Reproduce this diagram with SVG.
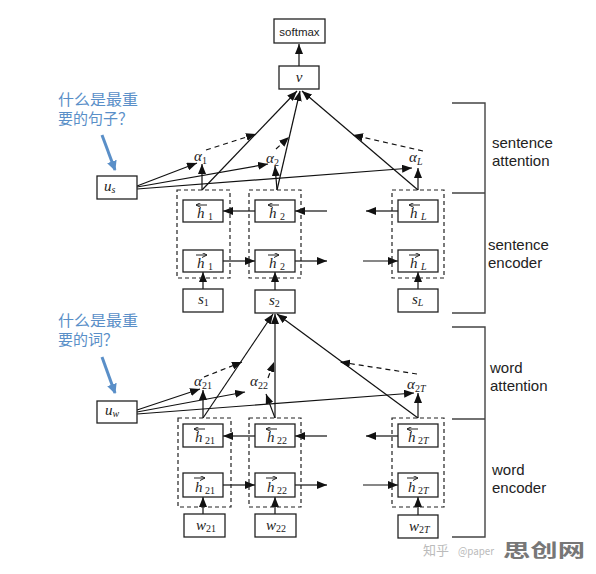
<svg xmlns="http://www.w3.org/2000/svg" width="596" height="574" viewBox="0 0 596 574">
<defs>
<marker id="ah" viewBox="0 0 10 8" refX="10" refY="4" markerWidth="10" markerHeight="8" orient="auto" markerUnits="userSpaceOnUse"><path d="M0,0 L10,4 L0,8 z" fill="#111"/></marker>
<marker id="sm" viewBox="0 0 6 6" refX="6" refY="3" markerWidth="5" markerHeight="5" orient="auto" markerUnits="userSpaceOnUse"><path d="M0,0 L6,3 L0,6" fill="none" stroke="#222" stroke-width="1.2"/></marker>
<marker id="bh" viewBox="0 0 10 10" refX="9" refY="5" markerWidth="10" markerHeight="10" orient="auto" markerUnits="userSpaceOnUse"><path d="M0,0 L10,5 L0,10 z" fill="#5a8fc8"/></marker>
<style>
.box{fill:#fff;stroke:#222;stroke-width:1.3}
.dbox{fill:none;stroke:#222;stroke-width:1.2;stroke-dasharray:4,3}
.ar{fill:none;stroke:#111;stroke-width:1.2;marker-end:url(#ah)}
.da{fill:none;stroke:#111;stroke-width:1.2;stroke-dasharray:5,4;marker-end:url(#ah)}
.ov{fill:none;stroke:#222;stroke-width:1;marker-end:url(#sm)}
.mi{font-family:"Liberation Serif","DejaVu Serif",serif;font-style:italic;font-size:15px;fill:#222}
.sub{font-family:"Liberation Serif","DejaVu Serif",serif;font-style:normal;font-size:10px;fill:#222}
.subi{font-family:"Liberation Serif","DejaVu Serif",serif;font-style:italic;font-size:10px;fill:#222}
.lbl{font-family:"Liberation Sans",Arial,sans-serif;font-size:15px;fill:#222}
.cn{font-family:"Noto Sans CJK SC","Noto Sans",sans-serif;font-size:15px;fill:#5a8fc8}
.bl{fill:none;stroke:#5a8fc8;stroke-width:3;marker-end:url(#bh)}
.br{fill:none;stroke:#444;stroke-width:1.4}
</style>
</defs>

<!-- connectors -->
<g id="connectors">
  <!-- sentence level -->
  <line class="ar" x1="299" y1="66" x2="299" y2="44"/>
  <line class="ar" x1="202" y1="190" x2="297" y2="91"/>
  <line class="ar" x1="277" y1="190" x2="300" y2="91"/>
  <line class="ar" x1="418" y1="190" x2="302" y2="91"/>
  <line class="ar" x1="202" y1="190" x2="202" y2="164"/>
  <line class="ar" x1="277" y1="190" x2="275" y2="166"/>
  <line class="ar" x1="418" y1="190" x2="418" y2="168"/>
  <line class="ar" x1="137" y1="186" x2="197" y2="163"/>
  <line class="ar" x1="137" y1="187" x2="268" y2="164"/>
  <line class="ar" x1="137" y1="189" x2="412" y2="168"/>
  <line class="da" x1="206" y1="150" x2="256" y2="134"/>
  <line class="da" x1="276" y1="149" x2="289" y2="137"/>
  <line class="da" x1="423" y1="151" x2="353" y2="135"/>
  <!-- sentence rnn -->
  <line class="ar" x1="255" y1="211" x2="223" y2="211"/>
  <line class="ar" x1="327" y1="211" x2="295" y2="211"/>
  <line class="ar" x1="398" y1="211" x2="366" y2="211"/>
  <line class="ar" x1="223" y1="261" x2="255" y2="261"/>
  <line class="ar" x1="295" y1="261" x2="327" y2="261"/>
  <line class="ar" x1="363" y1="261" x2="398" y2="261"/>
  <line class="ar" x1="203" y1="289" x2="203" y2="272"/>
  <line class="ar" x1="275" y1="290" x2="275" y2="272"/>
  <line class="ar" x1="418" y1="289" x2="418" y2="272"/>
  <!-- word level -->
  <line class="ar" x1="203" y1="418" x2="273" y2="314"/>
  <line class="ar" x1="275" y1="418" x2="275" y2="314"/>
  <line class="ar" x1="418" y1="418" x2="277" y2="314"/>
  <line class="ar" x1="203" y1="418" x2="203" y2="390"/>
  <line class="ar" x1="275" y1="418" x2="266" y2="394"/>
  <line class="ar" x1="418" y1="418" x2="418" y2="393"/>
  <line class="ar" x1="137" y1="410" x2="200" y2="389"/>
  <line class="ar" x1="137" y1="412" x2="245" y2="392"/>
  <line class="ar" x1="137" y1="414" x2="414" y2="393"/>
  <line class="da" x1="204" y1="377" x2="242" y2="362"/>
  <line class="da" x1="268" y1="378" x2="274" y2="362"/>
  <line class="da" x1="417" y1="374" x2="340" y2="362"/>
  <!-- word rnn -->
  <line class="ar" x1="255" y1="436" x2="223" y2="436"/>
  <line class="ar" x1="327" y1="436" x2="295" y2="436"/>
  <line class="ar" x1="398" y1="436" x2="366" y2="436"/>
  <line class="ar" x1="223" y1="485" x2="255" y2="485"/>
  <line class="ar" x1="295" y1="485" x2="327" y2="485"/>
  <line class="ar" x1="363" y1="485" x2="398" y2="485"/>
  <line class="ar" x1="203" y1="514" x2="203" y2="497"/>
  <line class="ar" x1="275" y1="514" x2="275" y2="497"/>
  <line class="ar" x1="418" y1="515" x2="418" y2="497"/>
  <!-- blue hint arrows -->
  <line class="bl" x1="102" y1="135" x2="115" y2="170"/>
  <line class="bl" x1="102" y1="357" x2="115" y2="393"/>
</g>

<!-- alpha labels -->
<g id="alphas">
  <text class="mi" x="194" y="161">α<tspan class="sub" dy="3">1</tspan></text>
  <text class="mi" x="266" y="163">α<tspan class="sub" dy="3">2</tspan></text>
  <text class="mi" x="409" y="162">α<tspan class="subi" dy="3">L</tspan></text>
  <text class="mi" x="194" y="386">α<tspan class="sub" dy="3">21</tspan></text>
  <text class="mi" x="250" y="386">α<tspan class="sub" dy="3">22</tspan></text>
  <text class="mi" x="407" y="389">α<tspan class="sub" dy="3">2</tspan><tspan class="subi">T</tspan></text>
</g>

<!-- top nodes -->
<g id="softmax">
  <rect class="box" x="274" y="19" width="51" height="24"/>
  <text x="299.5" y="35.5" text-anchor="middle" font-family="Liberation Sans, Arial, sans-serif" font-size="11.5" fill="#222">softmax</text>
</g>
<g id="v">
  <rect class="box" x="279" y="66" width="40" height="23"/>
  <text class="mi" x="299" y="82" text-anchor="middle" font-size="13">v</text>
</g>
<g id="us">
  <rect class="box" x="97" y="176" width="40" height="23"/>
  <text class="mi" x="104" y="191" font-size="13">u<tspan class="subi" dy="2">s</tspan></text>
</g>
<g id="uw">
  <rect class="box" x="97" y="401" width="40" height="22"/>
  <text class="mi" x="105" y="415" font-size="13">u<tspan class="subi" dy="2">w</tspan></text>
</g>

<!-- sentence encoder columns -->
<g id="sent1">
  <rect class="dbox" x="177" y="190" width="53" height="88"/>
  <rect class="box" x="183" y="200" width="40" height="22"/>
  <text class="mi" x="197" y="218">h</text><text class="sub" x="208" y="220">1</text>
  <line class="ov" x1="207" y1="205" x2="196" y2="205"/>
  <rect class="box" x="183" y="250" width="40" height="22"/>
  <text class="mi" x="197" y="268">h</text><text class="sub" x="208" y="270">1</text>
  <line class="ov" x1="196" y1="255" x2="207" y2="255"/>
</g>
<g id="sent2">
  <rect class="dbox" x="249" y="190" width="52" height="88"/>
  <rect class="box" x="255" y="200" width="40" height="22"/>
  <text class="mi" x="269" y="218">h</text><text class="sub" x="280" y="220">2</text>
  <line class="ov" x1="279" y1="205" x2="268" y2="205"/>
  <rect class="box" x="255" y="250" width="40" height="22"/>
  <text class="mi" x="269" y="268">h</text><text class="sub" x="280" y="270">2</text>
  <line class="ov" x1="268" y1="255" x2="279" y2="255"/>
</g>
<g id="sentL">
  <rect class="dbox" x="392" y="190" width="52" height="88"/>
  <rect class="box" x="398" y="200" width="40" height="22"/>
  <text class="mi" x="410" y="218">h</text><text class="subi" x="421" y="220">L</text>
  <line class="ov" x1="420" y1="205" x2="409" y2="205"/>
  <rect class="box" x="398" y="250" width="40" height="22"/>
  <text class="mi" x="410" y="268">h</text><text class="subi" x="421" y="270">L</text>
  <line class="ov" x1="409" y1="255" x2="420" y2="255"/>
</g>
<g id="s1">
  <rect class="box" x="183" y="289" width="40" height="23"/>
  <text class="mi" x="198" y="304" font-size="13">s<tspan class="sub" dy="2">1</tspan></text>
</g>
<g id="s2">
  <rect class="box" x="255" y="290" width="40" height="23"/>
  <text class="mi" x="269" y="305" font-size="13">s<tspan class="sub" dy="2">2</tspan></text>
</g>
<g id="sL">
  <rect class="box" x="398" y="289" width="40" height="23"/>
  <text class="mi" x="412" y="304" font-size="13">s<tspan class="subi" dy="2">L</tspan></text>
</g>

<!-- word encoder columns -->
<g id="word1">
  <rect class="dbox" x="178" y="418" width="53" height="89"/>
  <rect class="box" x="183" y="424" width="40" height="23"/>
  <text class="mi" x="195" y="442">h</text><text class="sub" x="205" y="444">21</text>
  <line class="ov" x1="205" y1="429" x2="194" y2="429"/>
  <rect class="box" x="183" y="473" width="40" height="24"/>
  <text class="mi" x="195" y="492">h</text><text class="sub" x="205" y="494">21</text>
  <line class="ov" x1="194" y1="478" x2="205" y2="478"/>
</g>
<g id="word2">
  <rect class="dbox" x="249" y="418" width="52" height="89"/>
  <rect class="box" x="255" y="424" width="40" height="23"/>
  <text class="mi" x="267" y="442">h</text><text class="sub" x="277" y="444">22</text>
  <line class="ov" x1="277" y1="429" x2="266" y2="429"/>
  <rect class="box" x="255" y="473" width="40" height="24"/>
  <text class="mi" x="267" y="492">h</text><text class="sub" x="277" y="494">22</text>
  <line class="ov" x1="266" y1="478" x2="277" y2="478"/>
</g>
<g id="wordT">
  <rect class="dbox" x="392" y="418" width="52" height="89"/>
  <rect class="box" x="398" y="424" width="40" height="23"/>
  <text class="mi" x="408" y="442">h</text><text class="sub" x="418" y="444">2<tspan class="subi">T</tspan></text>
  <line class="ov" x1="418" y1="429" x2="407" y2="429"/>
  <rect class="box" x="398" y="473" width="40" height="24"/>
  <text class="mi" x="408" y="492">h</text><text class="sub" x="418" y="494">2<tspan class="subi">T</tspan></text>
  <line class="ov" x1="407" y1="478" x2="418" y2="478"/>
</g>
<g id="w21">
  <rect class="box" x="184" y="514" width="41" height="23"/>
  <text class="mi" x="196" y="530" font-size="13">w<tspan class="sub" dy="2">21</tspan></text>
</g>
<g id="w22">
  <rect class="box" x="255" y="514" width="41" height="23"/>
  <text class="mi" x="266" y="530" font-size="13">w<tspan class="sub" dy="2">22</tspan></text>
</g>
<g id="w2T">
  <rect class="box" x="398" y="515" width="40" height="23"/>
  <text class="mi" x="409" y="531" font-size="13">w<tspan class="sub" dy="2">2<tspan class="subi">T</tspan></tspan></text>
</g>

<!-- brackets and side labels -->
<g id="sentence-brackets">
  <path class="br" d="M452,103 H485 V313 H452 M452,193 H485"/>
  <text class="lbl" x="492" y="148">sentence</text>
  <text class="lbl" x="492" y="166">attention</text>
  <text class="lbl" x="488" y="250">sentence</text>
  <text class="lbl" x="488" y="268">encoder</text>
</g>
<g id="word-brackets">
  <path class="br" d="M452,327 H485 V537 H452 M452,419 H485"/>
  <text class="lbl" x="490" y="373">word</text>
  <text class="lbl" x="490" y="391">attention</text>
  <text class="lbl" x="492" y="475">word</text>
  <text class="lbl" x="492" y="493">encoder</text>
</g>

<!-- questions -->
<g id="q-sentence">
  <text class="cn" x="58" y="105" textLength="80" lengthAdjust="spacingAndGlyphs">什么是最重</text>
  <text class="cn" x="58" y="124">要的句子？</text>
</g>
<g id="q-word">
  <text class="cn" x="58" y="326" textLength="80" lengthAdjust="spacingAndGlyphs">什么是最重</text>
  <text class="cn" x="58" y="345">要的词？</text>
</g>

<!-- watermark -->
<g id="watermark">
  <text x="423" y="555" font-family="Noto Sans CJK SC, Noto Sans, sans-serif" font-size="13" fill="#bbb">知乎</text>
  <text x="458" y="555" font-family="Noto Sans CJK SC, Noto Sans, sans-serif" font-size="11" fill="#bbb" textLength="36" lengthAdjust="spacingAndGlyphs">@paper</text>
  <text x="503" y="557" font-family="Noto Sans CJK SC, sans-serif" font-size="18" font-weight="bold" fill="#777" textLength="82" lengthAdjust="spacingAndGlyphs">思创网</text>
</g>
</svg>
